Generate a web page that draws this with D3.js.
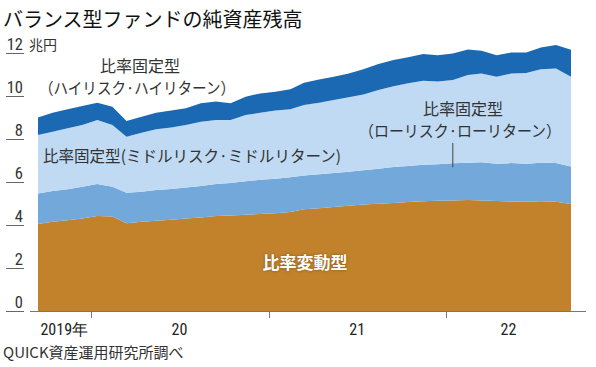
<!DOCTYPE html>
<html>
<head>
<meta charset="utf-8">
<script src="https://cdn.jsdelivr.net/npm/d3@7"></script>
<style>
  body { margin: 0; background: #fff; }
  svg { display: block; }
  .jp { font-family: "Noto Sans CJK JP", "Noto Sans", sans-serif; }
  .num { font-family: "Liberation Sans Narrow", "Roboto Condensed", "Roboto", sans-serif; }
</style>
</head>
<body>
<div id="chart"></div>
<script>
// months (mid-month points)
const months = [
  "2019-09","2019-10","2019-11","2019-12",
  "2020-01","2020-02","2020-03","2020-04","2020-05","2020-06","2020-07","2020-08","2020-09","2020-10","2020-11","2020-12",
  "2021-01","2021-02","2021-03","2021-04","2021-05","2021-06","2021-07","2021-08","2021-09","2021-10","2021-11","2021-12",
  "2022-01","2022-02","2022-03","2022-04","2022-05","2022-06","2022-07","2022-08","2022-09"
];

// 兆円
const variableType = [4.05,4.15,4.22,4.30,4.42,4.40,4.08,4.15,4.20,4.24,4.30,4.35,4.42,4.44,4.48,4.51,
  4.55,4.60,4.73,4.78,4.84,4.90,4.95,4.99,5.02,5.07,5.10,5.13,5.14,5.16,5.14,5.12,5.09,5.08,5.10,5.08,4.98];
const lowRisk = [1.42,1.43,1.44,1.48,1.49,1.38,1.42,1.40,1.43,1.43,1.44,1.46,1.49,1.51,1.55,1.59,
  1.60,1.62,1.57,1.58,1.58,1.58,1.60,1.63,1.68,1.68,1.70,1.69,1.73,1.74,1.78,1.73,1.79,1.77,1.80,1.80,1.74];
const middleRisk = [2.72,2.76,2.84,2.87,2.97,2.87,2.61,2.74,2.82,2.87,2.91,2.99,2.97,2.93,3.09,3.12,
  3.17,3.16,3.28,3.33,3.39,3.46,3.52,3.66,3.75,3.84,3.91,3.85,3.87,4.08,4.13,4.05,4.17,4.22,4.34,4.40,4.18];
const highRisk = [0.81,0.88,0.88,0.88,0.81,0.85,0.73,0.75,0.77,0.78,0.78,0.86,0.86,0.78,0.85,0.90,
  0.88,0.93,1.04,1.08,1.09,1.11,1.17,1.21,1.22,1.21,1.24,1.23,1.24,1.18,1.05,1.00,0.97,0.95,1.02,1.09,1.25];

const yTicks = [0, 2, 4, 6, 8, 10, 12];
const yearLabels = [
  { year: 2019, label: "2019年" },
  { year: 2020, label: "20" },
  { year: 2021, label: "21" },
  { year: 2022, label: "22" }
];

const width = 596, height = 367;
const colors = { variable: "#c1822b", low: "#73a9da", middle: "#bfdaf2", high: "#1c69b3" };

const parseMonth = d3.timeParse("%Y-%m-%d");
const data = months.map((m, i) => ({
  date: parseMonth(m + "-15"),
  variable: variableType[i],
  low: lowRisk[i],
  middle: middleRisk[i],
  high: highRisk[i]
}));

const svg = d3.select("#chart")
    .append("svg")
    .attr("width", width)
    .attr("height", height);

const x = d3.scaleTime()
    .domain(d3.extent(data, d => d.date))
    .range([38, 571]);
const y = d3.scaleLinear()
    .domain([0, 12])
    .range([311, 53]);

// stacked areas
const keys = ["variable", "low", "middle", "high"];
const series = d3.stack().keys(keys)(data);
const area = d3.area()
    .x(d => x(d.data.date))
    .y0(d => y(d[0]))
    .y1(d => y(d[1]));

svg.append("g").selectAll("path")
    .data(series)
    .enter()
    .append("path")
    .attr("d", area)
    .attr("fill", d => colors[d.key]);

// title
svg.append("text")
    .attr("class", "jp")
    .attr("x", 3)
    .attr("y", 27)
    .style("font-size", "20px")
    .style("font-weight", 400)
    .attr("fill", "#111")
    .text("バランス型ファンドの純資産残高");

// y axis: labels with short underline
const yAxis = svg.append("g");
yAxis.selectAll("line")
    .data(yTicks)
    .enter()
    .append("line")
    .attr("x1", 6).attr("x2", 24)
    .attr("y1", d => y(d) + 0.5).attr("y2", d => y(d) + 0.5)
    .attr("stroke", "#666").attr("stroke-width", 1);
yAxis.selectAll("text")
    .data(yTicks)
    .enter()
    .append("text")
    .attr("class", "num")
    .attr("x", 23)
    .attr("y", d => y(d) - 3)
    .attr("text-anchor", "end")
    .style("font-size", "16.5px")
    .attr("fill", "#333")
    .text(d => d);

svg.append("text")
    .attr("class", "jp")
    .attr("x", 29)
    .attr("y", y(12) - 3)
    .style("font-size", "14px")
    .attr("fill", "#333")
    .text("兆円");

// x axis
svg.append("line")
    .attr("x1", 30).attr("x2", 586)
    .attr("y1", y(0) + 0.5).attr("y2", y(0) + 0.5)
    .attr("stroke", "#777").attr("stroke-width", 1);

const [xStart, xEnd] = x.domain();
const yearTicks = yearLabels.slice(1).map(d => new Date(d.year, 0, 1));
svg.append("g").selectAll("line")
    .data(yearTicks)
    .enter()
    .append("line")
    .attr("x1", d => Math.round(x(d)) + 0.5).attr("x2", d => Math.round(x(d)) + 0.5)
    .attr("y1", y(0)).attr("y2", y(0) + 7)
    .attr("stroke", "#777");

svg.append("g").selectAll("text")
    .data(yearLabels)
    .enter()
    .append("text")
    .attr("class", "num")
    .attr("x", d => {
      const a = d3.max([xStart, new Date(d.year, 0, 1)]);
      const b = d3.min([xEnd, new Date(d.year + 1, 0, 1)]);
      return (x(a) + x(b)) / 2;
    })
    .attr("y", 335)
    .attr("text-anchor", "middle")
    .style("font-size", "16px")
    .attr("fill", "#222")
    .text(d => d.label);

// source
svg.append("text")
    .attr("class", "jp")
    .attr("x", 3)
    .attr("y", 358)
    .style("font-size", "15px")
    .attr("fill", "#333")
    .text("QUICK資産運用研究所調べ");

// annotations
function fitText(sel, w) {
  const len = sel.node().getComputedTextLength();
  if (len > w) sel.attr("textLength", w).attr("lengthAdjust", "spacingAndGlyphs");
  return sel;
}

const ann = svg.append("g").attr("class", "jp").attr("fill", "#333").style("font-size", "16px");

ann.append("text").attr("x", 140).attr("y", 72).attr("text-anchor", "middle").text("比率固定型");
fitText(ann.append("text").attr("x", 137).attr("y", 94).attr("text-anchor", "middle")
    .text("（ハイリスク·ハイリターン）"), 196);

fitText(ann.append("text").attr("x", 43).attr("y", 162)
    .text("比率固定型(ミドルリスク·ミドルリターン)"), 298);

ann.append("text").attr("x", 463).attr("y", 115).attr("text-anchor", "middle").text("比率固定型");
fitText(ann.append("text").attr("x", 460).attr("y", 137).attr("text-anchor", "middle")
    .text("（ローリスク·ローリターン）"), 202);

const pointerDate = parseMonth("2022-01-15");
svg.append("line")
    .attr("x1", x(pointerDate)).attr("x2", x(pointerDate))
    .attr("y1", 143).attr("y2", y(variableType[28] + lowRisk[28]) + 4)
    .attr("stroke", "#444").attr("stroke-width", 1);

svg.append("text")
    .attr("class", "jp")
    .attr("x", 305)
    .attr("y", 269)
    .attr("text-anchor", "middle")
    .style("font-size", "17px")
    .style("font-weight", 700)
    .attr("fill", "#fff")
    .style("text-shadow", "0 0 3px rgba(0,0,0,0.35)")
    .text("比率変動型");
</script>
</body>
</html>
